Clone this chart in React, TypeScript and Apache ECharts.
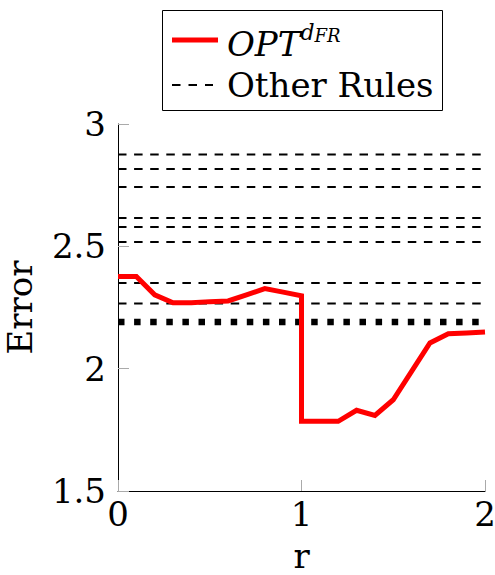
import React, { useEffect, useRef } from "react";
import * as echarts from "echarts";

// r values (x) and the error of OPT^{d_FR} (a repeated r = 1 gives the vertical drop)
const rValues = [0, 0.1, 0.2, 0.3, 0.4, 0.5, 0.6, 0.7, 0.8, 0.9, 1.0, 1.0, 1.1, 1.2, 1.3, 1.4, 1.5, 1.6, 1.7, 1.8, 1.9, 2.0];
const optErrors = [2.377, 2.377, 2.302, 2.269, 2.269, 2.274, 2.277, 2.302, 2.327, 2.313, 2.298, 1.785, 1.785, 1.785, 1.83, 1.809, 1.873, 1.989, 2.105, 2.143, 2.146, 2.15];

// constant errors of the other rules
const otherRules = [2.875, 2.816, 2.743, 2.616, 2.579, 2.518, 2.35, 2.266];
// several rules lying on top of each other
const clusteredRules = [2.191];

const rRange = [0, 2];
const yTicks = [1.5, 2, 2.5, 3];

const FONT = "DejaVu Serif";

export default function App() {
  const ref = useRef<HTMLDivElement>(null);

  useEffect(() => {
    if (!ref.current) return;
    const chart = echarts.init(ref.current, undefined, { renderer: "svg" });

    const ruleSeries: any[] = otherRules.map((v) => ({
      name: "Other Rules",
      type: "line",
      data: rRange.map((x) => [x, v]),
      symbol: "none",
      silent: true,
      z: 2,
      lineStyle: { color: "#000", width: 2, type: [8.5, 7.6] },
    }));
    clusteredRules.forEach((v) => {
      ruleSeries.push({
        name: "Other Rules",
        type: "line",
        data: rRange.map((x) => [x, v]),
        symbol: "none",
        silent: true,
        z: 2,
        lineStyle: { color: "#000", width: 6.5, type: [6.5, 9.6] },
      });
    });

    const option: any = {
      animation: false,
      grid: { left: 118, right: 10, top: 124, bottom: 84, containLabel: false, outerBoundsMode: "none" },
      xAxis: {
        type: "value",
        min: 0,
        max: 2,
        interval: 1,
        name: "r",
        nameLocation: "middle",
        nameGap: 50,
        nameTextStyle: { fontFamily: FONT, fontSize: 34, lineHeight: 30, color: "#000" },
        axisLine: { show: true, lineStyle: { color: "#000", width: 1 } },
        axisTick: { show: true, inside: true, length: 11, lineStyle: { color: "#aaa", width: 1 } },
        axisLabel: { fontFamily: FONT, fontSize: 34, color: "#000", margin: 6 },
        splitLine: { show: false },
      },
      yAxis: {
        type: "value",
        min: 1.5,
        max: 3,
        interval: 0.5,
        name: "Error",
        nameLocation: "middle",
        nameGap: 81,
        nameTextStyle: { fontFamily: FONT, fontSize: 34, color: "#000" },
        axisLine: { show: true, lineStyle: { color: "#000", width: 1 } },
        axisTick: { show: true, inside: true, length: 11, lineStyle: { color: "#aaa", width: 1 } },
        axisLabel: {
          fontFamily: FONT,
          fontSize: 34,
          color: "#000",
          margin: 12,
          formatter: (v: number) => (yTicks.includes(v) ? String(v) : ""),
        },
        splitLine: { show: false },
      },
      series: [
        ...ruleSeries,
        {
          name: "OPT",
          type: "line",
          data: rValues.map((x, i) => [x, optErrors[i]]),
          symbol: "none",
          z: 5,
          lineStyle: { color: "#ff0000", width: 5, join: "miter" },
        },
      ],
      graphic: [
        {
          type: "rect",
          shape: { x: 162.5, y: 10.5, width: 280, height: 100 },
          style: { fill: "#fff", stroke: "#000", lineWidth: 1 },
          z: 10,
        },
        {
          type: "line",
          shape: { x1: 172, y1: 40, x2: 218, y2: 40 },
          style: { stroke: "#ff0000", lineWidth: 5 },
          z: 11,
        },
        {
          type: "line",
          shape: { x1: 172, y1: 85, x2: 213, y2: 85 },
          style: { stroke: "#000", lineWidth: 2, lineDash: [8.5, 8] },
          z: 11,
        },
        {
          type: "text",
          x: 227,
          y: 41,
          z: 11,
          style: {
            text: "{a|OPT}{b|d}{c|FR}",
            verticalAlign: "middle",
            fill: "#000",
            rich: {
              a: { fontFamily: FONT, fontStyle: "italic", fontSize: 34, lineHeight: 40, verticalAlign: "bottom", fill: "#000" },
              b: { fontFamily: FONT, fontStyle: "italic", fontSize: 22, lineHeight: 28, verticalAlign: "top", fill: "#000" },
              c: { fontFamily: FONT, fontStyle: "italic", fontSize: 18, lineHeight: 38, verticalAlign: "top", padding: [5, 0, 0, 0], fill: "#000" },
            },
          },
        },
        {
          type: "text",
          x: 227,
          y: 85,
          z: 11,
          style: {
            text: "Other Rules",
            fontFamily: FONT,
            fontSize: 34,
            verticalAlign: "middle",
            fill: "#000",
          },
        },
      ],
    };

    chart.setOption(option);
    return () => chart.dispose();
  }, []);

  return (
    <div
      ref={ref}
      style={{ position: "fixed", left: 0, top: 0, width: 495, height: 575, background: "#fff" }}
    />
  );
}
